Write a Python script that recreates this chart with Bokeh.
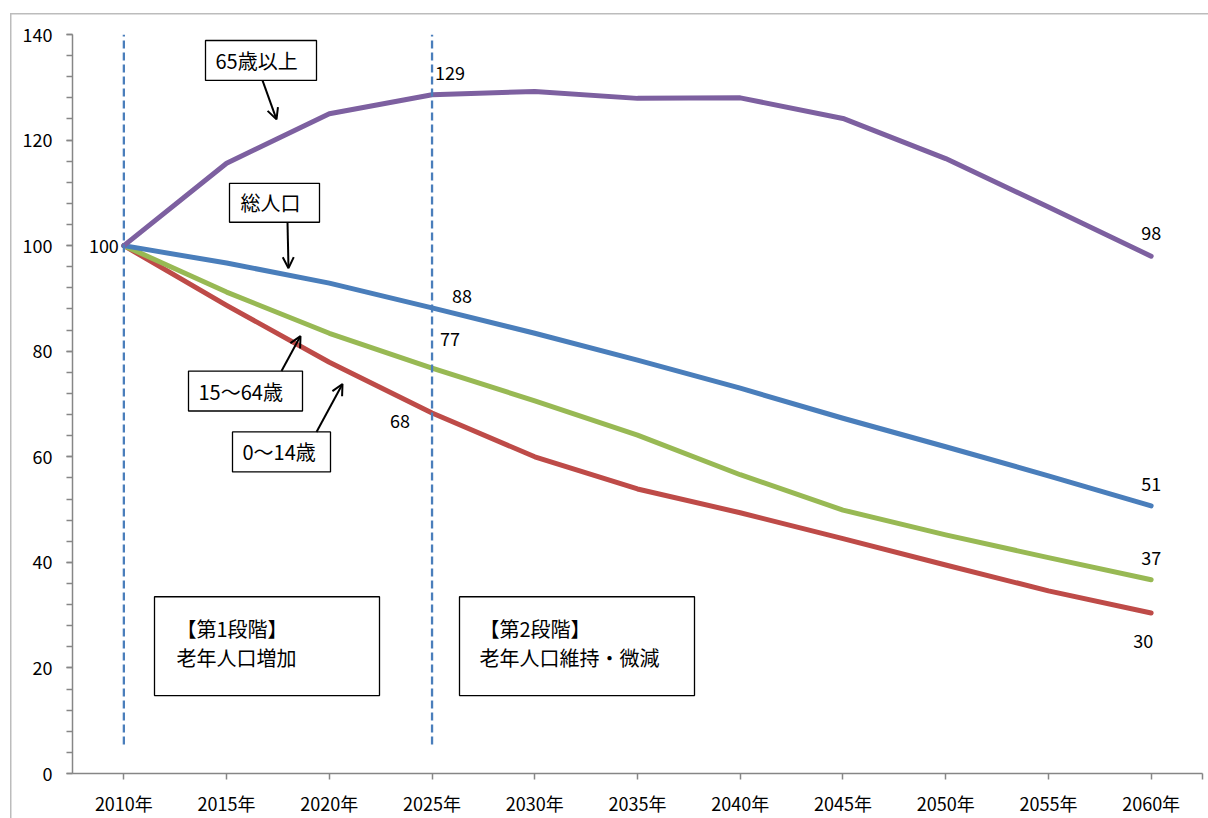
from bokeh.plotting import figure
from bokeh.models import Range1d, FixedTicker, SingleIntervalTicker, Arrow, OpenHead
from bokeh.core.properties import value
from bokeh.embed import file_html
from bokeh.resources import INLINE

# ---------------- data ----------------
years = [2010, 2015, 2020, 2025, 2030, 2035, 2040, 2045, 2050, 2055, 2060]
year_labels = ["2010年", "2015年", "2020年", "2025年", "2030年", "2035年",
               "2040年", "2045年", "2050年", "2055年", "2060年"]
total = [100, 96.7, 92.9, 88.2, 83.4, 78.3, 73.0, 67.3, 61.9, 56.4, 50.7]
age65 = [100, 115.6, 125.0, 128.6, 129.2, 127.9, 128.0, 124.1, 116.5, 107.3, 98.0]
age15_64 = [100, 91.2, 83.4, 76.8, 70.6, 64.1, 56.6, 49.9, 45.2, 40.9, 36.7]
age0_14 = [100, 88.7, 77.9, 68.3, 60.0, 53.9, 49.4, 44.5, 39.5, 34.6, 30.4]
stage_years = [2010, 2025]
series_names = ["65歳以上", "総人口", "15〜64歳", "0〜14歳"]
stage_texts = [["【第1段階】", "老年人口増加"], ["【第2段階】", "老年人口維持・微減"]]

FONT = "Noto Sans CJK JP"
C_BLUE, C_RED, C_GREEN, C_PURPLE = "#4a7ebb", "#be4b48", "#98b954", "#7d60a0"
AXIS_C = "#868686"

W, H = 1208, 818
# frame geometry (page pixels)
X0, X1, Y0, Y1 = 2007.5, 2062.5, 0, 140
FL, FR, FT, FB = 72, 1202, 34, 774
def X(px): return X0 + (px - FL) * (X1 - X0) / (FR - FL)
def Y(py): return Y1 - (py - FT) * (Y1 - Y0) / (FB - FT)
def DX(d): return d * (X1 - X0) / (FR - FL)
def DY(d): return -d * (Y1 - Y0) / (FB - FT)

p = figure(width=W, height=H, output_backend="svg", toolbar_location=None,
           x_range=Range1d(X0, X1), y_range=Range1d(Y0, Y1),
           min_border_left=FL, min_border_right=W - FR,
           min_border_top=FT, min_border_bottom=H - FB)
p.outline_line_color = None
p.xgrid.grid_line_color = None
p.ygrid.grid_line_color = None
p.background_fill_color = "white"
p.border_fill_alpha = 0
# outer chart border (left and top edges visible), drawn behind the transparent border area
p.styles = {
    "background": ("linear-gradient(#bcbcbc, #bcbcbc) 10px 13px / 1.5px 100% no-repeat, "
                   "linear-gradient(#bcbcbc, #bcbcbc) 10px 13px / 100% 1.5px no-repeat, "
                   "white")
}

# axes
p.yaxis.ticker = SingleIntervalTicker(interval=20, num_minor_ticks=5)
p.xaxis.ticker = FixedTicker(ticks=years + [X1])
overrides = {y: l for y, l in zip(years, year_labels)}
overrides[X1] = ""
p.xaxis.major_label_overrides = overrides
for ax in (p.xaxis[0], p.yaxis[0]):
    ax.axis_line_color = AXIS_C
    ax.axis_line_width = 1.5
    ax.major_tick_line_color = AXIS_C
    ax.major_tick_line_width = 1.5
    ax.minor_tick_line_color = AXIS_C
    ax.minor_tick_line_width = 1.5
    ax.major_tick_out = 6
    ax.major_tick_in = 0
    ax.minor_tick_out = 6
    ax.minor_tick_in = 0
    ax.major_label_text_font = FONT
    ax.major_label_text_font_size = "18px"
    ax.major_label_text_color = "black"
p.xaxis.minor_tick_line_color = None
p.yaxis.major_label_standoff = 14
p.xaxis.major_label_standoff = 10

# series lines
for vals, col in [(age0_14, C_RED), (age15_64, C_GREEN), (total, C_BLUE), (age65, C_PURPLE)]:
    p.line(years, vals, line_color=col, line_width=5, line_join="round", line_cap="round")

# stage dashed lines (drawn over the series)
for sy in stage_years:
    p.line([sy, sy], [Y(745), Y1], line_color=C_BLUE, line_width=2.3, line_dash="8 4")

# data labels: (series, index, dx px, dy px, align)
label_specs = [
    (total, 0, -5, 0, "right"),
    (age65, 3, 3, -22, "left"),
    (total, 3, 20, -12, "left"),
    (age15_64, 3, 8, -29, "left"),
    (age0_14, 3, -22, 8, "right"),
    (age65, 10, 0, -23, "center"),
    (total, 10, 0, -22, "center"),
    (age15_64, 10, 0, -22, "center"),
    (age0_14, 10, -8, 28, "center"),
]
for vals, i, dxp, dyp, al in label_specs:
    p.text(x=[years[i] + DX(dxp)], y=[vals[i] + DY(dyp)], text=[f"{round(vals[i])}"],
           text_font=value(FONT), text_font_size="18px", text_color="black",
           text_align=al, text_baseline="middle")

# callout boxes: name, box (l,t,r,b) px, text left px, arrow (x0,y0,x1,y1) px
callouts = [
    (series_names[0], (205, 40, 316, 80), 215, (262, 80, 276, 119)),
    (series_names[1], (229, 183, 319, 222), 240, (287, 222, 288, 268)),
    (series_names[2], (188, 371, 302, 411), 198, (281, 371, 300, 336)),
    (series_names[3], (232, 432, 330, 472), 242, (316, 432, 342, 384)),
]
for name, (l, t, r, b), tx, (ax0, ay0, ax1, ay1) in callouts:
    p.quad(left=[X(l)], right=[X(r)], top=[Y(t)], bottom=[Y(b)],
           fill_color="white", line_color="black", line_width=1.3)
    p.text(x=[X(tx)], y=[Y((t + b) / 2)], text=[name], text_font=value(FONT),
           text_font_size="20px", text_color="black", text_align="left",
           text_baseline="middle")
    p.add_layout(Arrow(end=OpenHead(size=11, line_width=2, line_color="black"),
                       x_start=X(ax0), y_start=Y(ay0), x_end=X(ax1), y_end=Y(ay1),
                       line_width=2, line_color="black"))

# stage boxes
stage_boxes = [((154, 597, 379, 696), 176), ((459, 597, 694, 696), 479)]
for (box, tx), lines in zip(stage_boxes, stage_texts):
    l, t, r, b = box
    p.quad(left=[X(l)], right=[X(r)], top=[Y(t)], bottom=[Y(b)],
           fill_color="white", line_color="black", line_width=1.3)
    for k, s in enumerate(lines):
        p.text(x=[X(tx)], y=[Y(629 + 29 * k)], text=[s], text_font=value(FONT),
               text_font_size="20px", text_color="black", text_align="left",
               text_baseline="middle")

open("out.html", "w").write(file_html(p, INLINE))
